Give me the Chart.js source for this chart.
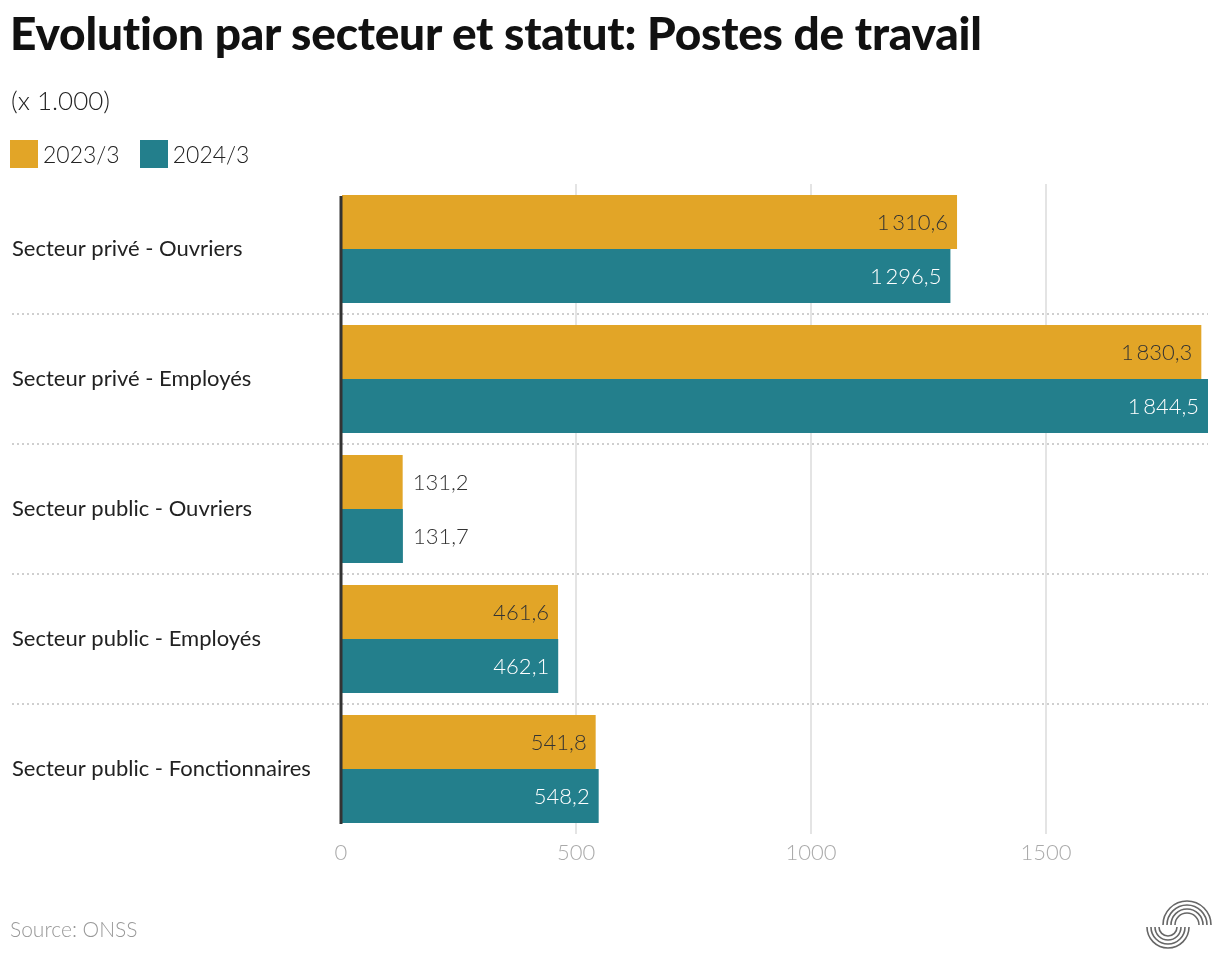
<!DOCTYPE html>
<html>
<head>
<meta charset="utf-8">
<script src="https://cdn.jsdelivr.net/npm/chart.js@4.4.1/dist/chart.umd.min.js"></script>
<style>
  html, body { margin: 0; padding: 0; background: #fff; }
  body { width: 1220px; height: 970px; position: relative; overflow: hidden; font-family: 'Lato', sans-serif; color: #222; }
  #title { position: absolute; left: 10px; top: 5px; font-size: 46px; font-weight: 900; letter-spacing: -0.2px; color: #111; white-space: nowrap; }
  #subtitle { position: absolute; left: 11px; top: 84px; font-size: 26px; font-weight: 300; color: #222; }
  #legend { position: absolute; left: 10px; top: 140px; display: flex; align-items: center; font-size: 23px; font-weight: 300; }
  #legend .sw { width: 28px; height: 28px; display: inline-block; margin-right: 5px; }
  #legend .item { display: flex; align-items: center; margin-right: 20px; }
  #source { position: absolute; left: 10px; top: 916px; font-size: 21px; font-weight: 300; color: #999; }
  #logo { position: absolute; left: 1145px; top: 893px; }
  #wrap { position: absolute; left: 0; top: 0; width: 1220px; height: 970px; }
</style>
</head>
<body>
<div id="wrap"><canvas id="chart"></canvas></div>
<div id="title">Evolution par secteur et statut: Postes de travail</div>
<div id="subtitle">(x 1.000)</div>
<div id="legend"></div>
<div id="source">Source: ONSS</div>
<svg id="logo" width="70" height="66" viewBox="0 0 70 66" fill="none" stroke="#666" stroke-width="1.6">
  <path d="M18 32 A24 24 0 0 1 66 32"/>
  <path d="M22 32 A20 20 0 0 1 62 32"/>
  <path d="M26 32 A16 16 0 0 1 58 32"/>
  <path d="M30 32 A12 12 0 0 1 54 32"/>
  <path d="M2 34 A21 21 0 0 0 44 34"/>
  <path d="M6 34 A17 17 0 0 0 40 34"/>
  <path d="M10 34 A13 13 0 0 0 36 34"/>
  <path d="M14 34 A9 9 0 0 0 32 34"/>
</svg>
<script>
// Catégories et valeurs (x 1.000 postes)
const categories = [
    'Secteur privé - Ouvriers',
    'Secteur privé - Employés',
    'Secteur public - Ouvriers',
    'Secteur public - Employés',
    'Secteur public - Fonctionnaires'
];
const seriesNames = ['2023/3', '2024/3'];
const values2023 = [1310.6, 1830.3, 131.2, 461.6, 541.8];
const values2024 = [1296.5, 1844.5, 131.7, 462.1, 548.2];
const xTicks = [0, 500, 1000, 1500];

const colors = ['#E2A527', '#237F8C'];
const labelColors = ['#333333', '#ffffff'];

// Légende HTML
const legendEl = document.getElementById('legend');
seriesNames.forEach((name, i) => {
    const item = document.createElement('span');
    item.className = 'item';
    item.innerHTML = '<span class="sw" style="background:' + colors[i] + '"></span>' + name;
    legendEl.appendChild(item);
});

function fmt(v) {
    const parts = v.toFixed(1).split('.');
    const int = parts[0].length > 3 ? parts[0].slice(0, -3) + '\u2009' + parts[0].slice(-3) : parts[0];
    return int + ',' + parts[1];
}

// Séparateurs pointillés entre catégories
const separatorPlugin = {
    id: 'separators',
    beforeDatasetsDraw(chart) {
        const y = chart.scales.y;
        const ctx = chart.ctx;
        ctx.save();
        ctx.strokeStyle = '#cfcfcf';
        ctx.lineWidth = 2;
        ctx.setLineDash([2, 3]);
        for (let i = 1; i < categories.length; i++) {
            const py = Math.round((y.getPixelForValue(i - 1) + y.getPixelForValue(i)) / 2);
            ctx.beginPath();
            ctx.moveTo(12, py);
            ctx.lineTo(chart.chartArea.right, py);
            ctx.stroke();
        }
        ctx.restore();
    }
};

// Étiquettes de valeurs dans / à côté des barres
const valueLabelPlugin = {
    id: 'valueLabels',
    afterDatasetsDraw(chart) {
        const ctx = chart.ctx;
        ctx.save();
        ctx.font = '300 22px Lato, sans-serif';
        ctx.textBaseline = 'middle';
        chart.data.datasets.forEach((ds, di) => {
            chart.getDatasetMeta(di).data.forEach((bar, i) => {
                const text = fmt(ds.data[i]);
                const w = bar.x - bar.base;
                if (w > 110) {
                    ctx.textAlign = 'right';
                    ctx.fillStyle = labelColors[di];
                    ctx.fillText(text, bar.x - 9, bar.y + 1);
                } else {
                    ctx.textAlign = 'left';
                    ctx.fillStyle = '#333333';
                    ctx.fillText(text, bar.x + 10, bar.y + 1);
                }
            });
        });
        ctx.restore();
    }
};

// Ligne d'axe à zéro, au-dessus des barres
const zeroLinePlugin = {
    id: 'zeroLine',
    afterDatasetsDraw(chart) {
        const x = chart.scales.x.getPixelForValue(0);
        const ctx = chart.ctx;
        ctx.save();
        ctx.strokeStyle = '#333';
        ctx.lineWidth = 3;
        ctx.beginPath();
        ctx.moveTo(x, chart.chartArea.top + 12);
        ctx.lineTo(x, chart.chartArea.bottom - 10);
        ctx.stroke();
        ctx.restore();
    }
};

new Chart(document.getElementById('chart').getContext('2d'), {
    type: 'bar',
    data: {
        labels: categories,
        datasets: [
            { label: seriesNames[0], data: values2023, backgroundColor: colors[0] },
            { label: seriesNames[1], data: values2024, backgroundColor: colors[1] }
        ]
    },
    options: {
        indexAxis: 'y',
        responsive: true,
        maintainAspectRatio: false,
        animation: false,
        layout: { padding: { top: 184, left: 12, right: 12, bottom: 96 } },
        datasets: { bar: { categoryPercentage: 0.83, barPercentage: 1 } },
        scales: {
            x: {
                min: 0,
                max: Math.max(...values2023, ...values2024),
                afterBuildTicks: (scale) => { scale.ticks = xTicks.map(v => ({ value: v })); },
                afterFit: (scale) => { scale.height = 40; },
                ticks: {
                    color: '#aaaaaa',
                    font: { family: 'Lato', size: 22, weight: 300 },
                    padding: 6,
                    callback: (v) => String(v)
                },
                grid: {
                    color: (ctx) => ctx.tick && ctx.tick.value === 0 ? 'rgba(0,0,0,0)' : '#e4e4e4',
                    lineWidth: 2,
                    drawTicks: false
                },
                border: { display: false }
            },
            y: {
                afterFit: (scale) => { scale.width = 329; },
                ticks: {
                    color: '#222222',
                    crossAlign: 'far',
                    font: { family: 'Lato', size: 22, weight: 400 }
                },
                grid: { display: false },
                border: { display: false }
            }
        },
        plugins: {
            legend: { display: false },
            tooltip: { enabled: false }
        }
    },
    plugins: [separatorPlugin, valueLabelPlugin, zeroLinePlugin]
});
</script>
</body>
</html>
